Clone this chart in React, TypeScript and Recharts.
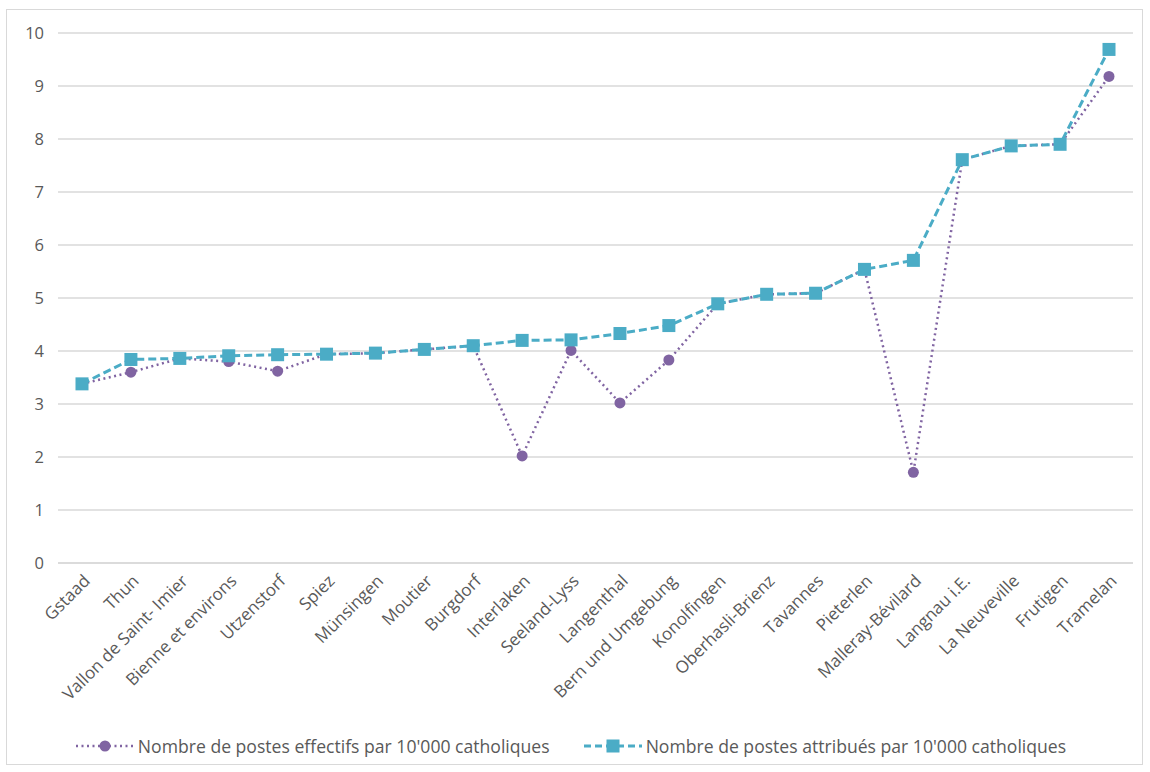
import React from 'react';
import { LineChart, Line, XAxis, YAxis, CartesianGrid, Legend } from 'recharts';

const districts = [
  'Gstaad', 'Thun', 'Vallon de Saint- Imier', 'Bienne et environs', 'Utzenstorf', 'Spiez',
  'Münsingen', 'Moutier', 'Burgdorf', 'Interlaken', 'Seeland-Lyss', 'Langenthal',
  'Bern und Umgebung', 'Konolfingen', 'Oberhasli-Brienz', 'Tavannes', 'Pieterlen',
  'Malleray-Bévilard', 'Langnau i.E.', 'La Neuveville', 'Frutigen', 'Tramelan',
];

const effectifs = [
  3.38, 3.6, 3.86, 3.8, 3.62, 3.94, 3.96, 4.03, 4.1, 2.02, 4.01, 3.02,
  3.83, 4.89, 5.07, 5.09, 5.54, 1.71, 7.61, 7.87, 7.9, 9.18,
];

const attribues = [
  3.38, 3.84, 3.86, 3.91, 3.93, 3.94, 3.96, 4.03, 4.1, 4.2, 4.21, 4.33,
  4.48, 4.89, 5.07, 5.09, 5.54, 5.71, 7.61, 7.87, 7.9, 9.69,
];

const yTicks = [0, 1, 2, 3, 4, 5, 6, 7, 8, 9, 10];

const labelEffectifs = "Nombre de postes effectifs par 10'000 catholiques";
const labelAttribues = "Nombre de postes attribués par 10'000 catholiques";

const data = districts.map((name, i) => ({ name, effectifs: effectifs[i], attribues: attribues[i] }));

const PURPLE = '#8064A2';
const TEAL = '#4BACC6';
const TEXT = '#595959';
const GRID = '#d9d9d9';
const FONT = '"Open Sans", sans-serif';

const SquareDot = (props: any) => {
  const { cx, cy } = props;
  if (cx == null || cy == null) return null;
  return <rect x={cx - 6.5} y={cy - 6.5} width={13} height={13} fill={TEAL} />;
};

const RoundDot = (props: any) => {
  const { cx, cy } = props;
  if (cx == null || cy == null) return null;
  return <circle cx={cx} cy={cy} r={5.5} fill={PURPLE} />;
};

const AngledTick = (props: any) => {
  const { x, y, payload } = props;
  const ax = x + 9;
  const ay = y + 11;
  return (
    <text
      x={ax}
      y={ay}
      transform={`rotate(-45, ${ax}, ${ay})`}
      textAnchor="end"
      fill={TEXT}
      fontSize={17}
      fontFamily={FONT}
    >
      {payload.value}
    </text>
  );
};

const LegendBox = () => (
  <div
    style={{
      display: 'flex',
      justifyContent: 'center',
      alignItems: 'center',
      gap: 32,
      height: 51,
      paddingTop: 14,
      boxSizing: 'border-box',
      fontFamily: FONT,
      fontSize: 17.6,
      color: TEXT,
    }}
  >
    <div style={{ display: 'flex', alignItems: 'center' }}>
      <svg width={64} height={14}>
        <line x1={2} y1={7} x2={60} y2={7} stroke={PURPLE} strokeWidth={2.5} strokeDasharray="2 3.5" />
        <circle cx={31} cy={7} r={5.5} fill={PURPLE} />
      </svg>
      <span>{labelEffectifs}</span>
    </div>
    <div style={{ display: 'flex', alignItems: 'center' }}>
      <svg width={64} height={14}>
        <line x1={2} y1={7} x2={60} y2={7} stroke={TEAL} strokeWidth={3} strokeDasharray="7 4" />
        <rect x={24.5} y={0.5} width={13} height={13} fill={TEAL} />
      </svg>
      <span>{labelAttribues}</span>
    </div>
  </div>
);

export default function App() {
  return (
    <div
      style={{
        position: 'absolute',
        left: 6,
        top: 9,
        width: 1137,
        height: 756,
        border: `1px solid ${GRID}`,
        boxSizing: 'border-box',
        background: '#fff',
      }}
    >
      <LineChart width={1135} height={754} data={data} margin={{ top: 23, right: 9, left: 0, bottom: 0 }}>
        <CartesianGrid vertical={false} stroke={GRID} strokeWidth={1.3} />
        <XAxis
          dataKey="name"
          interval={0}
          height={150}
          padding={{ left: 24, right: 24 }}
          tick={<AngledTick />}
          tickLine={false}
          axisLine={{ stroke: GRID, strokeWidth: 1.3 }}
        />
        <YAxis
          width={51}
          domain={[0, 10]}
          ticks={yTicks}
          axisLine={false}
          tickLine={false}
          tick={{ fill: TEXT, fontSize: 16.5, fontFamily: FONT }}
          tickMargin={8}
        />
        <Legend verticalAlign="bottom" height={51} content={<LegendBox />} />
        <Line
          type="linear"
          dataKey="effectifs"
          name={labelEffectifs}
          stroke={PURPLE}
          strokeWidth={2.5}
          strokeDasharray="2 3.5"
          dot={<RoundDot />}
          activeDot={false}
          isAnimationActive={false}
        />
        <Line
          type="linear"
          dataKey="attribues"
          name={labelAttribues}
          stroke={TEAL}
          strokeWidth={3}
          strokeDasharray="8 4"
          dot={<SquareDot />}
          activeDot={false}
          isAnimationActive={false}
        />
      </LineChart>
    </div>
  );
}
